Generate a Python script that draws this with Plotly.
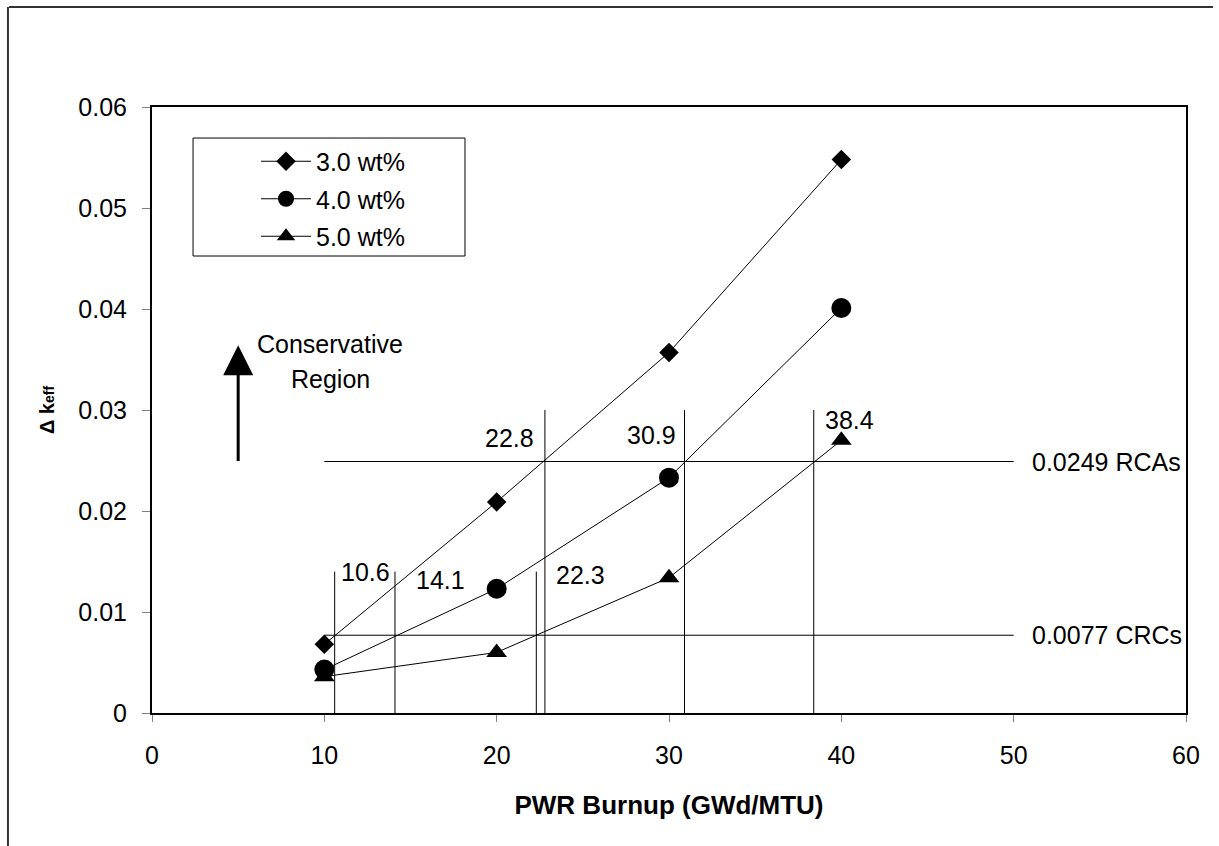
import plotly.graph_objects as go

# ---------------- data ----------------
burnup = [10, 20, 30, 40]
dk_3wt = [0.0068, 0.0209, 0.0357, 0.0548]
dk_4wt = [0.0043, 0.0123, 0.0233, 0.0401]
dk_5wt = [0.0036, 0.0060, 0.0134, 0.0270]
series_names = ["3.0 wt%", "4.0 wt%", "5.0 wt%"]
series_symbols = ["diamond", "circle", "triangle-up"]
series_sizes = [15, 20, 18]

rca_limit = 0.0249
crc_limit = 0.0077
rca_label = "0.0249 RCAs"
crc_label = "0.0077 CRCs"
rca_burnups = [22.8, 30.9, 38.4]
crc_burnups = [10.6, 14.1, 22.3]
limit_x_span = [10, 50]
rca_vline_top = 0.030
crc_vline_top = 0.014

x_ticks = [0, 10, 20, 30, 40, 50, 60]
y_ticks = [0, 0.01, 0.02, 0.03, 0.04, 0.05, 0.06]
y_tick_text = ["0", "0.01", "0.02", "0.03", "0.04", "0.05", "0.06"]

FONT = "Liberation Sans, Arial, sans-serif"
BLACK = "black"
FS = 25

fig = go.Figure()

for i, (name, ys) in enumerate(zip(series_names, [dk_3wt, dk_4wt, dk_5wt])):
    fig.add_trace(go.Scatter(
        x=burnup, y=ys, name=name, mode="lines+markers",
        legendgroup=name,
        line=dict(color=BLACK, width=1),
        marker=dict(symbol=series_symbols[i], size=series_sizes[i], color=BLACK,
                    line=dict(width=0)),
    ))

shapes = []
# horizontal limit lines
for val in [rca_limit, crc_limit]:
    shapes.append(dict(type="line", xref="x", yref="y",
                       x0=limit_x_span[0], x1=limit_x_span[1], y0=val, y1=val,
                       line=dict(color=BLACK, width=1)))
# vertical burnup lines
for bx in rca_burnups:
    shapes.append(dict(type="line", xref="x", yref="y", x0=bx, x1=bx, y0=0, y1=rca_vline_top,
                       line=dict(color=BLACK, width=1)))
for bx in crc_burnups:
    shapes.append(dict(type="line", xref="x", yref="y", x0=bx, x1=bx, y0=0, y1=crc_vline_top,
                       line=dict(color=BLACK, width=1)))
# legend box
shapes.append(dict(type="rect", xref="paper", yref="paper",
                   x0=0.0397, x1=0.3027, y0=0.7541, y1=0.9488,
                   line=dict(color=BLACK, width=1), fillcolor="rgba(0,0,0,0)", layer="below"))
# outer chart frame (top and left edges visible)
shapes.append(dict(type="line", xref="paper", yref="paper",
                   x0=-0.1383, x1=1.0261, y0=1.1650, y1=1.1650,
                   line=dict(color="#333333", width=2)))
shapes.append(dict(type="line", xref="paper", yref="paper",
                   x0=-0.1393, x1=-0.1393, y0=1.1650, y1=-0.23,
                   line=dict(color="#333333", width=2)))

annotations = []
tf = dict(family=FONT, size=FS, color=BLACK)
# burnup value labels: (x, y, xanchor, xshift)
label_specs = [
    (crc_burnups[0], 0.01396, "left", 4),
    (crc_burnups[1], 0.0132, "left", 19),
    (crc_burnups[2], 0.01366, "left", 18),
    (rca_burnups[0], 0.0272, "right", -9),
    (rca_burnups[1], 0.0275, "right", -7),
    (rca_burnups[2], 0.0290, "left", 9),
]
for bx, by, xa, xs in label_specs:
    annotations.append(dict(x=bx, y=by, xref="x", yref="y", text=f"{bx}",
                            showarrow=False, xanchor=xa, yanchor="middle",
                            xshift=xs, font=tf))
annotations.append(dict(x=limit_x_span[1], y=rca_limit, xref="x", yref="y", text=rca_label,
                        showarrow=False, xanchor="left", yanchor="middle", xshift=16, font=tf))
annotations.append(dict(x=limit_x_span[1], y=crc_limit, xref="x", yref="y", text=crc_label,
                        showarrow=False, xanchor="left", yanchor="middle", xshift=16, font=tf))
# conservative region arrow + text
annotations.append(dict(x=5, y=0.0364, ax=5, ay=0.0248, xref="x", yref="y",
                        axref="x", ayref="y", text="", showarrow=True,
                        arrowhead=2, arrowsize=2.0, arrowwidth=3, arrowcolor=BLACK))
annotations.append(dict(x=10.33, y=0.0365, xref="x", yref="y", text="Conservative",
                        showarrow=False, xanchor="center", yanchor="middle", font=tf))
annotations.append(dict(x=10.33, y=0.0331, xref="x", yref="y", text="Region",
                        showarrow=False, xanchor="center", yanchor="middle", font=tf))

fig.update_layout(
    width=1219, height=846,
    margin=dict(l=152, r=33, t=107, b=133),
    paper_bgcolor="white", plot_bgcolor="white",
    font=dict(family=FONT, size=FS, color=BLACK),
    showlegend=True,
    legend=dict(x=0.1006, y=0.948, xanchor="left", yanchor="top",
                bgcolor="rgba(0,0,0,0)", borderwidth=0,
                font=dict(family=FONT, size=FS, color=BLACK),
                traceorder="grouped", tracegroupgap=2, itemwidth=50),
    shapes=shapes,
    annotations=annotations,
    xaxis=dict(range=[0, 60], tickvals=x_ticks, ticks="outside", ticklen=7,
               tickcolor="#808080", tickwidth=1, showgrid=False, zeroline=False,
               showline=True, linecolor=BLACK, linewidth=2, mirror=True,
               ticklabelstandoff=12,
               tickfont=dict(family=FONT, size=FS, color=BLACK),
               title=dict(text="<b>PWR Burnup (GWd/MTU)</b>", standoff=28,
                          font=dict(family=FONT, size=26, color=BLACK))),
    yaxis=dict(range=[0, 0.06], tickvals=y_ticks, ticktext=y_tick_text, ticks="outside",
               ticklen=8, tickcolor="#808080", tickwidth=1, showgrid=False, zeroline=False,
               showline=True, linecolor=BLACK, linewidth=2, mirror=True,
               ticklabelstandoff=10,
               tickfont=dict(family=FONT, size=FS, color=BLACK),
               title=dict(text="<b>Δ k<span style='font-size:14px'>eff</span></b>", standoff=18,
                          font=dict(family=FONT, size=20, color=BLACK))),
)

fig.write_html("out.html", config={"displayModeBar": False},
               post_script="document.body.style.margin='0';")
